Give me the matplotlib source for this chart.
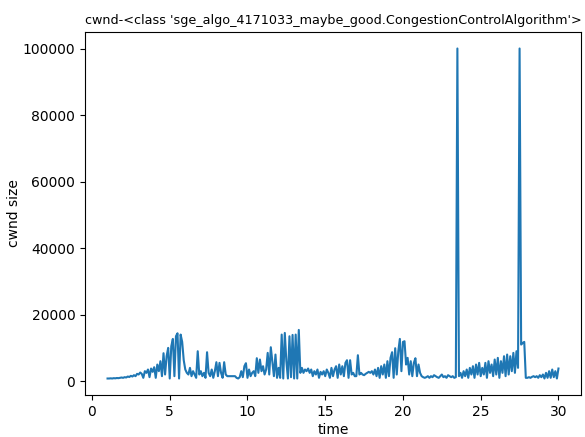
import numpy as np
import matplotlib
matplotlib.use("Agg")
import matplotlib.pyplot as plt

# sampling times (s)
time = np.round(np.arange(1.0, 30.05, 0.1), 1)

cwnd = [
    800, 800, 850, 800, 900, 850, 950, 900, 1000, 1100,
    1000, 1200, 1100, 1400, 1250, 1600, 1400, 1800, 1500, 2200,
    2000, 2600, 2200, 1000, 3000, 2500, 3500, 1200, 3800, 2800,
    4200, 1000, 5000, 3000, 6000, 1500, 8400, 2000, 7500, 10000,
    800, 10500, 12700, 1500, 13500, 14400, 800, 14000, 11800, 6300,
    3500, 2500, 2000, 4000, 1500, 3000, 2000, 1000, 9000, 2000,
    3000, 1500, 2500, 1000, 8700, 2500, 1500, 3500, 1000, 3000,
    5700, 1500, 5500, 2500, 1000, 5700, 2000, 1500, 1500, 1500,
    1500, 1500, 1500, 1000, 800, 1200, 3000, 1200, 4500, 5400,
    1000, 3500, 1500, 2500, 3000, 1500, 6900, 2500, 6500, 3000,
    4500, 2000, 3500, 8500, 2000, 10200, 6000, 1500, 8000, 1000,
    4000, 1000, 14000, 800, 14500, 6000, 800, 13500, 1200, 13900,
    800, 14000, 800, 15400, 2500, 4000, 2500, 3500, 3000, 3800,
    2500, 3500, 1500, 3000, 2000, 3500, 1000, 2800, 2000, 3000,
    1500, 3500, 2500, 1000, 4000, 1500, 3500, 4500, 1000, 5000,
    2000, 4500, 1500, 5500, 6300, 1000, 6300, 2000, 2500, 1500,
    1500, 7800, 2000, 2500, 2000, 1800, 2200, 2500, 2800, 2500,
    3000, 2000, 3500, 1500, 4000, 1000, 4500, 2000, 5000, 1000,
    6000, 1500, 7000, 8700, 1000, 9900, 2000, 9000, 12700, 3000,
    11800, 12000, 5000, 7000, 2000, 6000, 1500, 5500, 6900, 1500,
    5000, 2500, 1500, 1200, 1000, 1200, 1500, 1000, 1500, 1200,
    1800, 1500, 1200, 1000, 1500, 2000, 1200, 1500, 1000, 1800,
    1500, 1200, 1500, 1000, 1200, 100000, 1500, 2500, 1000, 3000,
    1500, 3500, 1000, 4000, 2000, 4500, 1000, 5000, 2000, 5500,
    1500, 4000, 2000, 5500, 1000, 6000, 2500, 5000, 1500, 6500,
    2000, 7000, 1000, 6000, 2500, 7500, 1500, 8000, 2000, 7500,
    3000, 8500, 2500, 9000, 4000, 100000, 11000, 11500, 11800, 1000,
    1000, 1200, 1000, 1300, 1500, 1200, 1500, 1000, 1800, 1200,
    2000, 800, 2500, 1000, 3000, 1000, 3500, 1200, 3000, 800,
    3800,
]

title = "cwnd-<class 'sge_algo_4171033_maybe_good.CongestionControlAlgorithm'>"

fig = plt.figure(figsize=(5.85, 4.37), dpi=100)
ax = fig.add_axes([85 / 585, 42 / 437, 496 / 585, 363 / 437])
ax.plot(time, cwnd, color="#1f77b4")
ax.set_xlabel("time", labelpad=3)
ax.set_ylabel("cwnd size", labelpad=1)
ax.set_title(title, fontsize=9.2)
fig.savefig("out.png", dpi=100)
